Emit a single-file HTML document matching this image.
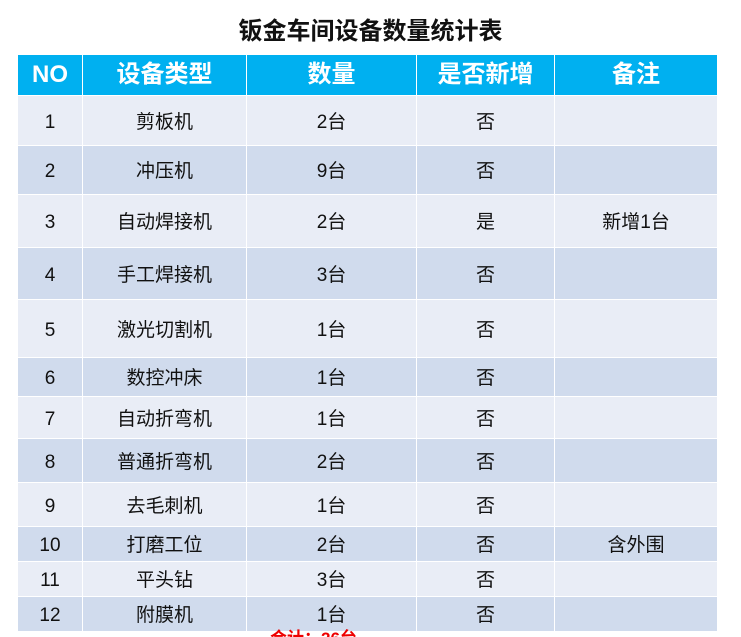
<!DOCTYPE html>
<html><head><meta charset="utf-8"><style>
html,body{margin:0;width:741px;height:637px;overflow:hidden}
body{background:#fff;position:relative;font-family:"Liberation Sans","Noto Sans CJK SC",sans-serif;}
.t{position:absolute;top:14px;left:0;width:741px;text-align:center;font-size:24px;font-weight:bold;color:#111;line-height:36px}
.c{position:absolute;font-size:19px;color:#111;box-sizing:border-box;text-align:center}
.c span{position:absolute;left:0;right:0;top:50%;height:24px;margin-top:-10px;line-height:24px;white-space:nowrap}
.h{background:#00b0f0;color:#fff;font-weight:bold;font-size:24px}
.h span{height:30px;margin-top:-15px;line-height:30px}
.a{background:#e9edf6}.b{background:#d0dbed}
.r{position:absolute;left:270px;top:629px;color:#e00;font-weight:bold;font-size:17px;line-height:20px}
</style></head><body>
<div class="t">钣金车间设备数量统计表</div>
<div id="g"></div>
<div class="r">合计：26台</div>
<script>
var xs=[18,82,246,416,554,717];
var ys=[55,95,145,194,247,299,357,396,438,482,526,561,596,631];
var rows=[["NO","设备类型","数量","是否新增","备注"],
["1","剪板机","2台","否",""],["2","冲压机","9台","否",""],["3","自动焊接机","2台","是","新增1台"],
["4","手工焊接机","3台","否",""],["5","激光切割机","1台","否",""],["6","数控冲床","1台","否",""],
["7","自动折弯机","1台","否",""],["8","普通折弯机","2台","否",""],["9","去毛刺机","1台","否",""],
["10","打磨工位","2台","否","含外围"],["11","平头钻","3台","否",""],["12","附膜机","1台","否",""]];
var h="";
for(var i=0;i<rows.length;i++)for(var j=0;j<5;j++){
var cls=i==0?"h":(i%2?"a":"b");
h+='<div class="c '+cls+'" style="left:'+(xs[j]+(j?1:0))+'px;top:'+(ys[i]+(i?1:0))+'px;width:'+(xs[j+1]-xs[j]-(j?1:0))+'px;height:'+(ys[i+1]-ys[i]-(i?1:0))+'px"><span>'+rows[i][j]+'</span></div>';}
document.getElementById("g").innerHTML=h;
</script>
</body></html>
